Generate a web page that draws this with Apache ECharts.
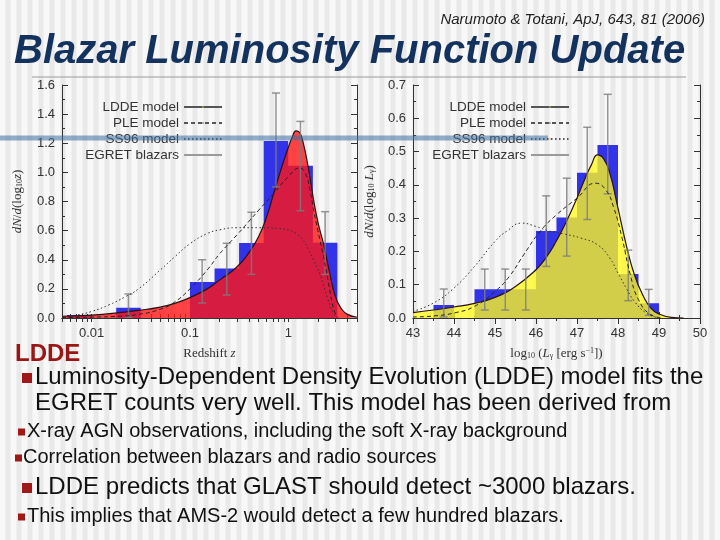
<!DOCTYPE html>
<html>
<head>
<meta charset="utf-8">
<script src="https://cdn.jsdelivr.net/npm/echarts@6/dist/echarts.min.js"></script>
<style>
html, body { margin: 0; padding: 0; }
body {
	width: 720px; height: 540px;
	background: repeating-linear-gradient(90deg, #f8f8f8 0px, #f8f8f8 5px, #e9e9e9 6px, #e9e9e9 10px, #f8f8f8 11px);
}
#main { width: 720px; height: 540px; }
</style>
</head>
<body>
<div id="main"></div>
<script>
var chart = echarts.init(document.getElementById('main'));

// ---------- left panel: redshift ----------
var zEdges = [0.00562, 0.01, 0.0178, 0.0316, 0.0562, 0.1, 0.178, 0.316, 0.562, 1, 1.78, 3.16];
var egretZ = [0.02, 0, 0.07, 0, 0, 0.247, 0.34, 0.515, 1.216, 1.046, 0.517];
var zErrX  = [0.0237, 0.133, 0.237, 0.422, 0.75, 1.33, 2.37];
var zErrHi = [0.165, 0.40, 0.513, 0.726, 1.545, 1.35, 0.73];
var zErrLo = [0.005, 0.103, 0.158, 0.30, 0.9, 0.737, 0.3];

var lddeZ  = [0.005, 0.01, 0.02, 0.03, 0.05, 0.07, 0.1, 0.15, 0.2, 0.3, 0.4, 0.5, 0.6, 0.7, 0.8, 0.9, 1.0, 1.1, 1.2, 1.3, 1.4, 1.6, 1.8, 2.0, 2.3, 2.6, 3.0, 3.5, 4.0, 5.0];
var lddeZY = [0.012, 0.02, 0.038, 0.052, 0.075, 0.1, 0.14, 0.2, 0.26, 0.35, 0.45, 0.56, 0.69, 0.84, 0.97, 1.08, 1.17, 1.245, 1.285, 1.275, 1.22, 1.03, 0.82, 0.66, 0.5, 0.33, 0.15, 0.06, 0.025, 0.005];
var pleZ   = [0.005, 0.01, 0.02, 0.03, 0.05, 0.07, 0.1, 0.15, 0.2, 0.3, 0.4, 0.5, 0.7, 1.0, 1.3, 1.5, 1.65, 1.8, 2.0, 2.3, 2.6, 2.9, 3.2];
var pleZY  = [0.003, 0.006, 0.013, 0.025, 0.06, 0.11, 0.2, 0.33, 0.44, 0.57, 0.665, 0.74, 0.85, 0.97, 1.03, 0.99, 0.89, 0.75, 0.6, 0.41, 0.22, 0.06, 0.0];
var ssZ    = [0.005, 0.007, 0.01, 0.015, 0.022, 0.03, 0.05, 0.07, 0.1, 0.15, 0.2, 0.3, 0.5, 0.8, 1.0, 1.2, 1.4, 1.6, 1.8, 2.1, 2.5, 2.9, 3.2];
var ssZY   = [0.008, 0.02, 0.045, 0.09, 0.146, 0.2, 0.33, 0.42, 0.51, 0.58, 0.605, 0.62, 0.62, 0.615, 0.605, 0.58, 0.54, 0.47, 0.4, 0.3, 0.14, 0.03, 0.0];
var zLabels = [0.01, 0.1, 1];

// ---------- right panel: luminosity ----------
var lEdges = [43, 43.5, 44, 44.5, 45, 45.5, 46, 46.5, 47, 47.5, 48, 48.5, 49];
var egretL = [0, 0.039, 0, 0.086, 0.086, 0.086, 0.261, 0.302, 0.436, 0.52, 0.132, 0.044];
var lErrX  = [43.75, 44.75, 45.25, 45.75, 46.25, 46.75, 47.25, 47.75, 48.25, 48.75];
var lErrHi = [0.087, 0.147, 0.147, 0.147, 0.367, 0.42, 0.573, 0.672, 0.204, 0.086];
var lErrLo = [0.003, 0.024, 0.024, 0.024, 0.155, 0.186, 0.296, 0.373, 0.052, 0.008];

var lddeL  = [43, 43.5, 44, 44.5, 45, 45.5, 46, 46.25, 46.5, 46.75, 47, 47.2, 47.35, 47.5, 47.65, 47.8, 48.0, 48.2, 48.4, 48.6, 48.8, 49.0, 49.3, 49.6];
var lddeLY = [0.016, 0.024, 0.033, 0.044, 0.062, 0.095, 0.145, 0.182, 0.232, 0.292, 0.36, 0.42, 0.46, 0.49, 0.478, 0.435, 0.33, 0.22, 0.13, 0.07, 0.03, 0.012, 0.002, 0.0];
var pleL   = [43, 43.5, 44, 44.5, 45, 45.35, 45.7, 46.1, 46.5, 47, 47.45, 47.7, 47.9, 48.1, 48.3, 48.5, 48.8, 49.1];
var pleLY  = [0.003, 0.006, 0.015, 0.035, 0.08, 0.125, 0.19, 0.26, 0.31, 0.36, 0.405, 0.385, 0.33, 0.24, 0.13, 0.055, 0.01, 0.0];
var ssL    = [43, 43.5, 44, 44.5, 45, 45.3, 45.65, 46, 46.3, 46.7, 47.1, 47.5, 47.8, 48, 48.2, 48.4, 48.7, 49];
var ssLY   = [0.02, 0.045, 0.09, 0.155, 0.23, 0.262, 0.285, 0.275, 0.262, 0.252, 0.24, 0.22, 0.18, 0.135, 0.09, 0.05, 0.014, 0.0];

var SANS = '"Liberation Sans", Arial, sans-serif';
var SERIF = '"Liberation Serif", "DejaVu Serif", serif';

// log ticks 2..9 per decade between 0.005 and 5
var zTicks = (function() {
	var t = [];
	[0.001, 0.01, 0.1, 1].forEach(function(d) {
		for (var k = 1; k < 10; k++) {
			var v = +(k * d).toPrecision(3);
			if (v >= 0.005 && v <= 5) t.push(v);
		}
	});
	return t;
})();

function pairs(xs, ys) {
	return xs.map(function(x, i) { return [x, ys[i]]; });
}
function steps(edges, vals) {
	var d = vals.map(function(v, i) { return [edges[i], v]; });
	d.push([edges[edges.length - 1], vals[vals.length - 1]]);
	return d;
}
function errs(xs, hi, lo) {
	return xs.map(function(x, i) { return [x, hi[i], lo[i]]; });
}

function renderErr(params, api) {
	var x = api.value(0);
	var top = api.coord([x, api.value(1)]);
	var bot = api.coord([x, api.value(2)]);
	var hw = 4;
	var st = { stroke: 'rgba(125,125,125,0.8)', lineWidth: 1.5 };
	return {
		type: 'group',
		children: [
			{ type: 'line', shape: { x1: top[0], y1: top[1], x2: bot[0], y2: bot[1] }, style: st },
			{ type: 'line', shape: { x1: top[0] - hw, y1: top[1], x2: top[0] + hw, y2: top[1] }, style: st },
			{ type: 'line', shape: { x1: bot[0] - hw, y1: bot[1], x2: bot[0] + hw, y2: bot[1] }, style: st }
		]
	};
}

var axisLine = { show: true, lineStyle: { color: '#333', width: 1 } };
var labelStyle = { color: '#333', fontSize: 13, fontFamily: SANS };
var nameStyle = {
	color: '#333', fontSize: 13, fontFamily: SERIF,
	rich: {
		i: { fontStyle: 'italic', fontSize: 13, fontFamily: SERIF, color: '#333' },
		s: { fontSize: 8, fontFamily: SERIF, color: '#333', verticalAlign: 'bottom', lineHeight: 8 },
		p: { fontSize: 8, fontFamily: SERIF, color: '#333', verticalAlign: 'top', lineHeight: 8 }
	}
};

function series(name, type, xi, data, extra) {
	var s = {
		name: name, type: type, xAxisIndex: xi, yAxisIndex: xi,
		data: data, symbol: 'none', silent: true
	};
	for (var k in extra) s[k] = extra[k];
	return s;
}

function curves(xi, ldde, ple, ss, hist, err, fill) {
	return [
		series('EGRET hist', 'line', xi, hist, {
			step: 'end', lineStyle: { width: 0 },
			areaStyle: { color: 'rgb(50,50,232)', opacity: 1 }, z: 1
		}),
		series('LDDE model', 'line', xi, ldde, {
			smooth: true,
			lineStyle: { color: '#2a1212', width: 1.2 },
			areaStyle: { color: fill, opacity: 1 }, z: 2
		}),
		{
			name: 'EGRET blazars', type: 'custom', xAxisIndex: xi, yAxisIndex: xi,
			data: err, renderItem: renderErr, encode: { x: 0, y: [1, 2] },
			itemStyle: { color: '#9a9a9a' }, z: 3, silent: true
		},
		series('PLE model', 'line', xi, ple, {
			smooth: true,
			lineStyle: { color: '#222', width: 1, type: [4, 3] }, z: 4
		}),
		series('SS96 model', 'line', xi, ss, {
			smooth: true,
			lineStyle: { color: '#333', width: 1, type: [1.5, 2.5] }, z: 4
		})
	];
}

var legendNames = ['LDDE model', 'PLE model', 'SS96 model', { name: 'EGRET blazars', icon: 'rect' }];
function legend(right) {
	return {
		data: legendNames, orient: 'vertical', align: 'right',
		right: right, top: 99, padding: 0, itemGap: 0,
		itemWidth: 38, itemHeight: 2, selectedMode: false,
		lineStyle: { color: '#555' },
		textStyle: { fontSize: 13.5, color: '#333', fontFamily: SANS, lineHeight: 16 }
	};
}

var option = {
	animation: false,
	backgroundColor: 'transparent',
	grid: [
		{ left: 62, top: 85, width: 295, height: 233, outerBoundsMode: 'none' },
		{ left: 413, top: 85, width: 287, height: 233, outerBoundsMode: 'none' }
	],
	legend: [legend(497), legend(150)],
	xAxis: [
		{
			type: 'log', logBase: 10, gridIndex: 0, position: 'bottom', min: 0.005, max: 5,
			axisLine: axisLine,
			axisTick: { inside: true, length: 4, customValues: zTicks, lineStyle: { color: '#333' } },
			axisLabel: Object.assign({ customValues: zLabels, margin: 9, formatter: function(v) { return String(v); } }, labelStyle),
			splitLine: { show: false },
			name: 'Redshift {i|z}', nameLocation: 'middle', nameGap: 29, nameTextStyle: nameStyle
		},
		{
			type: 'log', logBase: 10, gridIndex: 0, position: 'top', min: 0.005, max: 5,
			axisLine: axisLine,
			axisTick: { inside: true, length: 4, customValues: zTicks, lineStyle: { color: '#333' } },
			axisLabel: { show: false }, splitLine: { show: false }
		},
		{
			type: 'value', gridIndex: 1, position: 'bottom', min: 43, max: 50, interval: 1,
			axisLine: axisLine,
			axisTick: { inside: true, length: 6, lineStyle: { color: '#333' } },
			minorTick: { show: true, splitNumber: 2, length: 3, lineStyle: { color: '#333' } },
			axisLabel: Object.assign({ margin: 9 }, labelStyle),
			splitLine: { show: false },
			name: 'log{s|10} ({i|L}{s|γ} [erg s{p|−1}])', nameLocation: 'middle', nameGap: 29, nameTextStyle: nameStyle
		},
		{
			type: 'value', gridIndex: 1, position: 'top', min: 43, max: 50, interval: 1,
			axisLine: axisLine,
			axisTick: { inside: true, length: 6, lineStyle: { color: '#333' } },
			minorTick: { show: true, splitNumber: 2, length: 3, lineStyle: { color: '#333' } },
			axisLabel: { show: false }, splitLine: { show: false }
		}
	],
	yAxis: [
		{
			type: 'value', gridIndex: 0, position: 'left', min: 0, max: 1.6, interval: 0.2,
			axisLine: axisLine,
			axisTick: { inside: true, length: 6, lineStyle: { color: '#333' } },
			minorTick: { show: true, splitNumber: 2, length: 3, lineStyle: { color: '#333' } },
			axisLabel: Object.assign({ margin: 7, formatter: function(v) { return v.toFixed(1); } }, labelStyle),
			splitLine: { show: false },
			name: '{i|dN}/{i|d}(log{s|10}{i|z})', nameLocation: 'middle', nameGap: 38, nameTextStyle: nameStyle
		},
		{
			type: 'value', gridIndex: 0, position: 'right', min: 0, max: 1.6, interval: 0.2,
			axisLine: axisLine,
			axisTick: { inside: true, length: 6, lineStyle: { color: '#333' } },
			minorTick: { show: true, splitNumber: 2, length: 3, lineStyle: { color: '#333' } },
			axisLabel: { show: false }, splitLine: { show: false }
		},
		{
			type: 'value', gridIndex: 1, position: 'left', min: 0, max: 0.7, interval: 0.1,
			axisLine: axisLine,
			axisTick: { inside: true, length: 6, lineStyle: { color: '#333' } },
			minorTick: { show: true, splitNumber: 2, length: 3, lineStyle: { color: '#333' } },
			axisLabel: Object.assign({ margin: 7, formatter: function(v) { return v.toFixed(1); } }, labelStyle),
			splitLine: { show: false },
			name: '{i|dN}/{i|d}(log{s|10} {i|L}{s|γ})', nameLocation: 'middle', nameGap: 37, nameTextStyle: nameStyle
		},
		{
			type: 'value', gridIndex: 1, position: 'right', min: 0, max: 0.7, interval: 0.1,
			axisLine: axisLine,
			axisTick: { inside: true, length: 6, lineStyle: { color: '#333' } },
			minorTick: { show: true, splitNumber: 2, length: 3, lineStyle: { color: '#333' } },
			axisLabel: { show: false }, splitLine: { show: false }
		}
	],
	series: [].concat(
		curves(0, pairs(lddeZ, lddeZY), pairs(pleZ, pleZY), pairs(ssZ, ssZY),
			steps(zEdges, egretZ), errs(zErrX, zErrHi, zErrLo), 'rgba(255,22,22,0.8)'),
		curves(2, pairs(lddeL, lddeLY), pairs(pleL, pleLY), pairs(ssL, ssLY),
			steps(lEdges, egretL), errs(lErrX, lErrHi, lErrLo), 'rgba(255,250,30,0.78)')
	)
};

// slide text
function txt(x, y, text, font, fill, align) {
	return {
		type: 'text', x: x, y: y, z: 50,
		style: { text: text, font: font, fill: fill || '#111', align: align || 'left', verticalAlign: 'middle' }
	};
}
function bullet(x, y, size) {
	return {
		type: 'rect', z: 50,
		shape: { x: x, y: y - size / 2, width: size, height: size },
		style: { fill: '#a01818' }
	};
}
var big = '24px ' + SANS;
var small = '20px ' + SANS;

option.graphic = { elements: [
	txt(705, 20, 'Narumoto & Totani, ApJ, 643, 81 (2006)', 'italic 15px ' + SANS, '#222', 'right'),
	txt(14, 52, 'Blazar Luminosity Function Update', 'italic bold 40px ' + SANS, '#13325e'),
	{ type: 'line', z: 50, shape: { x1: 32, y1: 77, x2: 686, y2: 77 }, style: { stroke: '#9a9a9a', lineWidth: 1 } },
	{ type: 'rect', z: 100, shape: { x: 0, y: 135.5, width: 548, height: 5 }, style: { fill: 'rgba(60,110,160,0.55)' } },
	txt(15, 354, 'LDDE', 'bold 24px ' + SANS, '#9a1515'),
	bullet(22, 378, 10),
	txt(35, 377, 'Luminosity-Dependent Density Evolution (LDDE) model fits the', big),
	txt(35, 403, 'EGRET counts very well. This model has been derived from', big),
	bullet(18, 432, 7),
	txt(27, 431, 'X-ray AGN observations, including the soft X-ray background', small),
	bullet(15, 458, 7),
	txt(23, 457, 'Correlation between blazars and radio sources', small),
	bullet(22, 488, 10),
	txt(35, 487, 'LDDE predicts that GLAST should detect ~3000 blazars.', big),
	bullet(18, 517, 7),
	txt(27, 516, 'This implies that AMS-2 would detect a few hundred blazars.', small)
] };

chart.setOption(option);
</script>
</body>
</html>
